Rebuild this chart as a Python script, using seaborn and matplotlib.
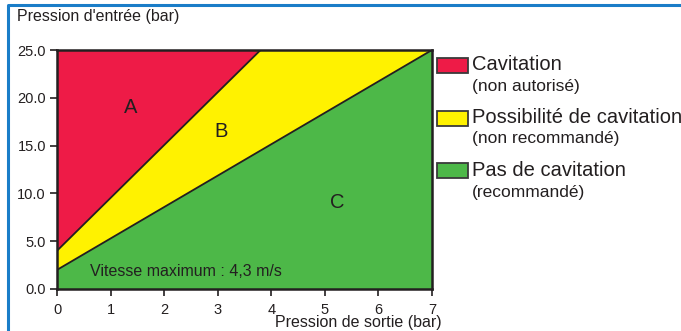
import matplotlib
matplotlib.use("Agg")
import matplotlib.pyplot as plt
import seaborn as sns
import pandas as pd
from matplotlib.patches import Rectangle
from matplotlib.lines import Line2D

# ---- data ----
# boundary between zone A (cavitation) and zone B (possible cavitation)
ab_outlet = [0.0, 3.8]
ab_inlet = [4.0, 25.0]
# boundary between zone B and zone C (no cavitation)
bc_outlet = [0.0, 7.0]
bc_inlet = [2.0, 25.0]
x_max = 7.0
y_max = 25.0
x_ticks = [0, 1, 2, 3, 4, 5, 6, 7]
y_ticks = [0.0, 5.0, 10.0, 15.0, 20.0, 25.0]
zone_letters = ["A", "B", "C"]
zone_titles = ["Cavitation", "Possibilité de cavitation", "Pas de cavitation"]
zone_notes = ["(non autorisé)", "(non recommandé)", "(recommandé)"]
zone_label_pos = [(1.38, 19.0), (3.06, 16.5), (5.24, 9.1)]
zone_colors = ["#ee1b47", "#fff200", "#4db848"]

sns.set_style("ticks")
plt.rcParams["font.family"] = ["Liberation Sans", "DejaVu Sans"]

W, H = 681, 331
fig = plt.figure(figsize=(W / 100, H / 100), dpi=100)
ax = fig.add_axes([57 / W, 1 - 289 / H, (432 - 57) / W, (289 - 50) / H])

# zone polygons built from the boundary data
red_x = [ab_outlet[0], ab_outlet[1], 0.0]
red_y = [ab_inlet[0], ab_inlet[1], y_max]
yel_x = [bc_outlet[0], ab_outlet[0], ab_outlet[1], bc_outlet[1]]
yel_y = [bc_inlet[0], ab_inlet[0], ab_inlet[1], bc_inlet[1]]
grn_x = [0.0, bc_outlet[0], bc_outlet[1], x_max]
grn_y = [0.0, bc_inlet[0], bc_inlet[1], 0.0]
ax.fill(grn_x, grn_y, color=zone_colors[2], lw=0, zorder=1)
ax.fill(yel_x, yel_y, color=zone_colors[1], lw=0, zorder=1)
ax.fill(red_x, red_y, color=zone_colors[0], lw=0, zorder=1)

df_ab = pd.DataFrame({"x": ab_outlet, "y": ab_inlet})
df_bc = pd.DataFrame({"x": bc_outlet, "y": bc_inlet})
sns.lineplot(data=df_ab, x="x", y="y", ax=ax, color="#231f20", lw=1.3, zorder=3)
sns.lineplot(data=df_bc, x="x", y="y", ax=ax, color="#231f20", lw=1.3, zorder=3)

for (lx, ly), letter in zip(zone_label_pos, zone_letters):
    ax.text(lx, ly, letter, fontsize=14.5, ha="center", va="center", color="#231f20", zorder=4)

ax.text(0.62, 1.8, "Vitesse maximum : 4,3 m/s", fontsize=11.5, ha="left", va="center",
        color="#231f20", zorder=4)

ax.set_xlim(0, x_max)
ax.set_ylim(0, y_max)
ax.set_xticks(x_ticks)
ax.set_yticks(y_ticks)
ax.set_yticklabels([f"{v:.1f}" for v in y_ticks])
ax.set_xlabel("")
ax.set_ylabel("")
for s in ax.spines.values():
    s.set_visible(True)
    s.set_linewidth(1.8)
    s.set_color("#231f20")
    s.set_zorder(5)
ax.tick_params(axis="both", direction="out", length=5, width=1.2, color="#231f20",
               labelsize=10.5, labelcolor="#231f20", pad=3)
ax.tick_params(axis="x", pad=5)

fig.text(17 / W, 1 - 17 / H, "Pression d'entrée (bar)", fontsize=11.5, ha="left", va="center",
         color="#231f20")
fig.text(442 / W, 1 - 323 / H, "Pression de sortie (bar)", fontsize=11.5, ha="right", va="center",
         color="#231f20")

# legend boxes
box_tops = [58, 111, 163]
title_y = [64, 118, 170]
note_y = [87, 139, 192]
letter_colors = ["#7a0f20", "#231f20", "#231f20"]
for i in range(3):
    r = Rectangle((437 / W, 1 - (box_tops[i] + 15) / H), 31 / W, 15 / H,
                  transform=fig.transFigure, facecolor=zone_colors[i], edgecolor="#3a3a3a",
                  lw=1.3, zorder=5)
    fig.add_artist(r)
    fig.text(452.5 / W, 1 - (box_tops[i] + 8) / H, zone_letters[i], fontsize=9.5, ha="center",
             va="center", color=letter_colors[i])
    fig.text(472 / W, 1 - title_y[i] / H, zone_titles[i], fontsize=14.5, ha="left", va="center",
             color="#231f20")
    fig.text(472 / W, 1 - note_y[i] / H, zone_notes[i], fontsize=12.5, ha="left", va="center",
             color="#231f20")

# blue frame
blue = "#1a7dc8"
fig.add_artist(Line2D([9 / W, 1.0], [1 - 5 / H, 1 - 5 / H], transform=fig.transFigure,
                      color=blue, lw=2.2))
fig.add_artist(Line2D([8 / W, 8 / W], [0.0, 1 - 5 / H], transform=fig.transFigure,
                      color=blue, lw=2.2))

fig.savefig("out.png", dpi=100)
